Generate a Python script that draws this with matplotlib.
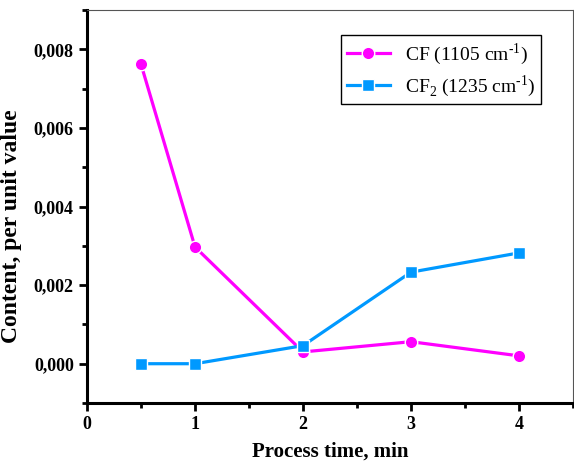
import matplotlib.pyplot as plt
from matplotlib.ticker import MultipleLocator, FuncFormatter

plt.rcParams['font.family'] = ['Liberation Serif', 'DejaVu Serif']
plt.rcParams['mathtext.fontset'] = 'custom'
plt.rcParams['mathtext.rm'] = 'Liberation Serif'

time = [0.5, 1, 2, 3, 4]
cf = [0.00762, 0.00297, 0.00030, 0.00056, 0.00020]
cf2 = [0.0, 0.0, 0.00046, 0.00233, 0.00282]

fig = plt.figure(figsize=(5.74, 4.65), dpi=100)
ax = fig.add_axes([0.1516, 0.1333, 0.8467, 0.8452])

ax.plot(time, cf, color='#ff00ff', lw=2.3, marker='o', ms=9, mec='white', mew=1,
        label=r'CF (1105 cm$^{\text{-1}}$)')
ax.plot(time, cf2, color='#0099ff', lw=2.3, marker='s', ms=8, mec='white', mew=1,
        label=r'CF$_2$ (1235 cm$^{\text{-1}}$)')

ax.set_xlim(0, 4.5)
ax.set_ylim(-0.001, 0.009)
ax.xaxis.set_major_locator(MultipleLocator(1))
ax.xaxis.set_minor_locator(MultipleLocator(0.5))
ax.yaxis.set_major_locator(MultipleLocator(0.002))
ax.yaxis.set_minor_locator(MultipleLocator(0.001))
ax.yaxis.set_major_formatter(FuncFormatter(lambda v, p: ('%.3f' % v).replace('.', ',')))

for s in ['left', 'bottom']:
    ax.spines[s].set_linewidth(2.2)
for s in ['top', 'right']:
    ax.spines[s].set_linewidth(0.8)
    ax.spines[s].set_color('#555555')

ax.tick_params(which='major', direction='out', length=6, width=2, labelsize=13)
ax.tick_params(which='minor', direction='out', length=3.5, width=2)
for lab in ax.get_xticklabels() + ax.get_yticklabels():
    lab.set_fontweight('bold')

ax.set_xlabel('Process time, min', fontsize=15, fontweight='bold', labelpad=6)
ax.set_ylabel('Content, per unit value', fontsize=17, fontweight='bold')
ax.yaxis.set_label_coords(-0.134, 0.45)

leg = ax.legend(loc='upper right', bbox_to_anchor=(0.955, 0.96), fontsize=14,
                fancybox=False, edgecolor='black', framealpha=1,
                handlelength=2.2, borderpad=0.3, labelspacing=0.3)
leg.get_frame().set_linewidth(1)

fig.savefig('out.png', dpi=100)
